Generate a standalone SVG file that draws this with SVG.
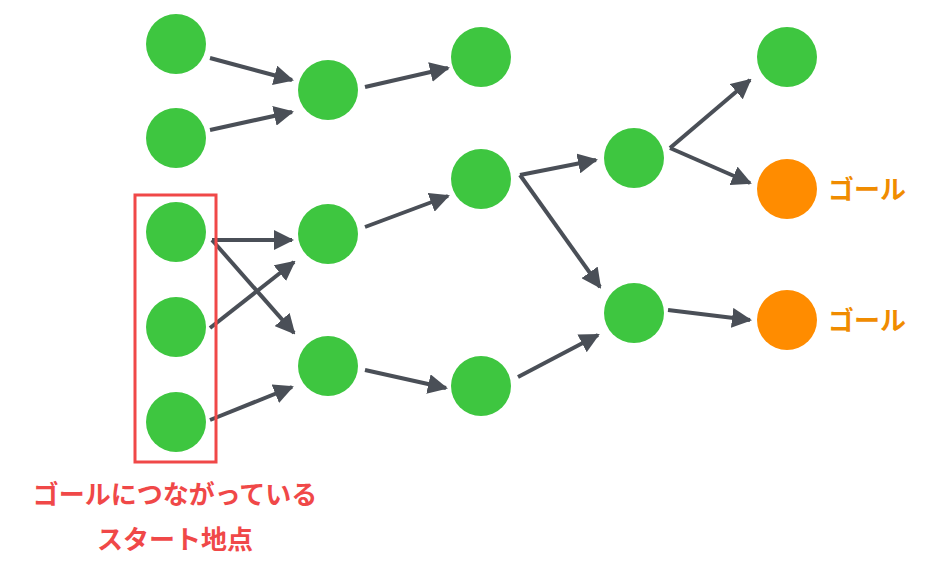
<svg xmlns="http://www.w3.org/2000/svg" width="931" height="569" viewBox="0 0 931 569">
<style>
.g{fill:#3ec640}.o{fill:#ff8c00}
.c line{stroke:#4a4f57;stroke-width:4;marker-end:url(#ah)}
.t{font-family:"Noto Sans CJK JP",sans-serif;font-weight:bold;font-size:26px}
</style>
<defs><marker id="ah" markerWidth="5" markerHeight="5" refX="4.5" refY="2.5" orient="auto"><path d="M0,0L5,2.5L0,5z" fill="#4a4f57"/></marker></defs>
<rect width="931" height="569" fill="#fff"/>
<g class="c">
<line x1="210" y1="58" x2="292" y2="80"/>
<line x1="210" y1="130" x2="292" y2="112"/>
<line x1="365" y1="87" x2="448" y2="68"/>
<line x1="212" y1="240" x2="292" y2="240"/>
<line x1="212" y1="240" x2="294" y2="333"/>
<line x1="210" y1="328" x2="294" y2="262"/>
<line x1="210" y1="420" x2="292" y2="387"/>
<line x1="365" y1="227" x2="448" y2="196"/>
<line x1="365" y1="370" x2="446" y2="388"/>
<line x1="520" y1="175" x2="596" y2="160"/>
<line x1="520" y1="175" x2="600" y2="287"/>
<line x1="518" y1="377" x2="598" y2="335"/>
<line x1="670" y1="148" x2="750" y2="80"/>
<line x1="670" y1="148" x2="750" y2="183"/>
<line x1="668" y1="310" x2="750" y2="320"/>
</g>
<g id="a1"><circle class="g" cx="176" cy="44" r="30"/></g>
<g id="a2"><circle class="g" cx="176" cy="138" r="30"/></g>
<g id="a3"><circle class="g" cx="176" cy="232" r="30"/></g>
<g id="a4"><circle class="g" cx="176" cy="327" r="30"/></g>
<g id="a5"><circle class="g" cx="176" cy="422" r="30"/></g>
<g id="b1"><circle class="g" cx="328" cy="90" r="30"/></g>
<g id="b2"><circle class="g" cx="328" cy="234" r="30"/></g>
<g id="b3"><circle class="g" cx="328" cy="366" r="30"/></g>
<g id="c1"><circle class="g" cx="481" cy="57" r="30"/></g>
<g id="c2"><circle class="g" cx="481" cy="179" r="30"/></g>
<g id="c3"><circle class="g" cx="481" cy="386" r="30"/></g>
<g id="d1"><circle class="g" cx="634" cy="158" r="30"/></g>
<g id="d2"><circle class="g" cx="634" cy="313" r="30"/></g>
<g id="e1"><circle class="g" cx="787" cy="57" r="30"/></g>
<g id="e2"><circle class="o" cx="787" cy="189" r="30"/><text class="t" x="828" y="199" fill="#f08c00">ゴール</text></g>
<g id="e3"><circle class="o" cx="787" cy="320" r="30"/><text class="t" x="828" y="330" fill="#f08c00">ゴール</text></g>
<g id="start"><rect x="135" y="195" width="81" height="267" fill="none" stroke="#f04848" stroke-width="3"/>
<text class="t" x="175" y="504" fill="#f04848" text-anchor="middle">ゴールにつながっている</text>
<text class="t" x="175" y="549" fill="#f04848" text-anchor="middle">スタート地点</text></g>
</svg>
